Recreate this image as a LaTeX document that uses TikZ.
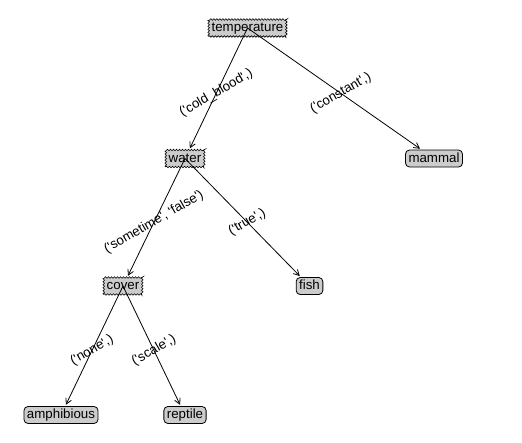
\documentclass[tikz,border=0pt]{standalone}
\usepackage{fontspec}
\setmainfont{Liberation Sans}
\usetikzlibrary{arrows.meta,decorations.pathmorphing,calc}
\newcommand\qq{\textquotesingle}
\begin{document}
\begin{tikzpicture}[x=1pt,y=-1pt,
  every node/.style={font=\fontsize{13.3}{15}\selectfont},
  decision/.style={draw, fill=black!20, line width=0.6pt, decorate,
    decoration={zigzag, segment length=3pt, amplitude=0.8pt},
    inner xsep=3pt, inner ysep=2pt, text height=10pt, text depth=3pt},
  leaf/.style={draw, fill=black!20, line width=0.8pt, rounded corners=4pt,
    inner xsep=3pt, inner ysep=2pt, text height=10pt, text depth=3pt},
  edge/.style={-{Straight Barb[length=5.5pt,width=6pt]}, line width=0.8pt, shorten >=1.5pt},
  elabel/.style={rotate=30, inner sep=0pt}]
\useasboundingbox (0,0) rectangle (522,442);
\node[decision] (temp) at (247.5,28) {temperature};
\node[decision] (water) at (185,158.5) {water};
\node[leaf] (mammal) at (434,158.5) {mammal};
\node[decision] (cover) at (123,286) {cover};
\node[leaf] (fish) at (309.5,286) {fish};
\node[leaf] (amph) at (61,415) {amphibious};
\node[leaf] (rept) at (185,415) {reptile};
\draw[edge] (temp.center) -- (water);
\draw[edge] (temp.center) -- (mammal);
\draw[edge] (water.center) -- (cover);
\draw[edge] (water.center) -- (fish);
\draw[edge] (cover.center) -- (amph);
\draw[edge] (cover.center) -- (rept);
\node[elabel] (l1) at ($(temp.center)!0.5!(water.center)$) {(\qq cold\_blood\qq,)};
\node[elabel] (l2) at ($(temp.center)!0.5!(mammal.center)$) {(\qq constant\qq,)};
\node[elabel] (l3) at ($(water.center)!0.5!(cover.center)$) {(\qq sometime\qq, \qq false\qq)};
\node[elabel] (l4) at ($(water.center)!0.5!(fish.center)$) {(\qq true\qq,)};
\node[elabel] (l5) at ($(cover.center)!0.5!(amph.center)$) {(\qq none\qq,)};
\node[elabel] (l6) at ($(cover.center)!0.5!(rept.center)$) {(\qq scale\qq,)};
\end{tikzpicture}
\end{document}
